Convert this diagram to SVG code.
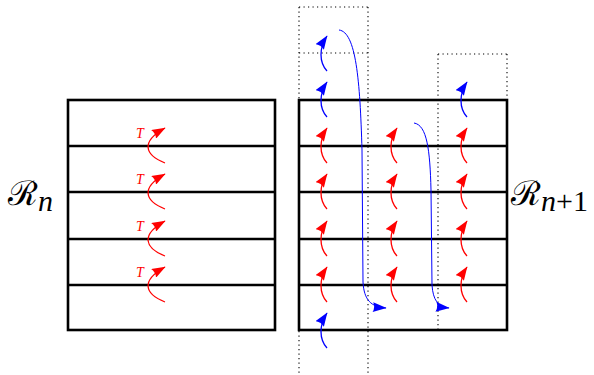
<svg xmlns="http://www.w3.org/2000/svg" width="594" height="375" viewBox="0 0 594 375">
<style>
.box{fill:none;stroke:#000;stroke-width:2.6}
.row{stroke:#000;stroke-width:2.6}
.dot{fill:none;stroke:#000;stroke-width:1.1;stroke-dasharray:1.2 3.3}
.r{fill:none;stroke:#f00;stroke-width:1.3}
.b{fill:none;stroke:#00f;stroke-width:1.3}
.bl{fill:none;stroke:#00f;stroke-width:1}
.lab{font-family:"DejaVu Serif","Liberation Serif",serif;fill:#000}
.sub{font-family:"Liberation Serif",serif;font-size:30px}
.t{font-family:"Liberation Serif",serif;font-style:italic;font-size:14px;fill:#f00}
</style>
<defs>
<marker id="ar" markerUnits="userSpaceOnUse" markerWidth="14" markerHeight="10" viewBox="0 0 11 8" refX="10.5" refY="4" orient="auto"><path d="M0,0 L11,4 L0,8 Q2,4 0,0 z" fill="#f00"/></marker>
<marker id="ab" markerUnits="userSpaceOnUse" markerWidth="14" markerHeight="10" viewBox="0 0 11 8" refX="10.5" refY="4" orient="auto"><path d="M0,0 L11,4 L0,8 Q2,4 0,0 z" fill="#00f"/></marker>
</defs>
<g id="left-block">
<rect class="box" x="68" y="100" width="207" height="230"/>
<line class="row" x1="68" y1="146" x2="275" y2="146"/>
<line class="row" x1="68" y1="192" x2="275" y2="192"/>
<line class="row" x1="68" y1="239" x2="275" y2="239"/>
<line class="row" x1="68" y1="285" x2="275" y2="285"/>
</g>
<g id="right-block">
<rect class="box" x="299" y="100" width="208" height="230"/>
<line class="row" x1="299" y1="146" x2="507" y2="146"/>
<line class="row" x1="299" y1="192" x2="507" y2="192"/>
<line class="row" x1="299" y1="239" x2="507" y2="239"/>
<line class="row" x1="299" y1="285" x2="507" y2="285"/>
</g>
<g id="dotted-column-1">
<path class="dot" d="M299,7 H368 M299,53 H368 M299,7 V375 M368,7 V375"/>
</g>
<g id="dotted-column-3">
<path class="dot" d="M438,54 H507 M438,54 V330 M507,54 V100"/>
</g>
<g id="label-Rn">
<text class="lab" x="8" y="205" font-size="34">ℛ<tspan class="sub" font-style="italic" dy="6">n</tspan></text>
</g>
<g id="label-Rn1">
<text class="lab" x="511" y="205" font-size="34">ℛ<tspan class="sub" dy="6"><tspan font-style="italic">n</tspan>+1</tspan></text>
</g>
<g id="connectors">
<g id="left-T-arrows">
<path class="r" marker-end="url(#ar)" d="M165,163 C145,155 140,142 165,128"/>
<path class="r" marker-end="url(#ar)" d="M165,209 C145,201 140,188 165,174"/>
<path class="r" marker-end="url(#ar)" d="M165,256 C145,248 140,235 165,221"/>
<path class="r" marker-end="url(#ar)" d="M165,302 C145,294 140,281 165,267"/>
<text class="t" x="136" y="138">T</text>
<text class="t" x="136" y="184">T</text>
<text class="t" x="136" y="231">T</text>
<text class="t" x="136" y="277">T</text>
</g>
<g id="right-red-arrows">
<path class="r" marker-end="url(#ar)" d="M327,163 C319,154 319,140 327,128"/>
<path class="r" marker-end="url(#ar)" d="M327,209 C319,200 319,186 327,174"/>
<path class="r" marker-end="url(#ar)" d="M327,256 C319,247 319,233 327,221"/>
<path class="r" marker-end="url(#ar)" d="M327,302 C319,293 319,279 327,267"/>
<path class="r" marker-end="url(#ar)" d="M397,163 C389,154 389,140 397,128"/>
<path class="r" marker-end="url(#ar)" d="M397,209 C389,200 389,186 397,174"/>
<path class="r" marker-end="url(#ar)" d="M397,256 C389,247 389,233 397,221"/>
<path class="r" marker-end="url(#ar)" d="M397,302 C389,293 389,279 397,267"/>
<path class="r" marker-end="url(#ar)" d="M467,163 C459,154 459,140 467,128"/>
<path class="r" marker-end="url(#ar)" d="M467,209 C459,200 459,186 467,174"/>
<path class="r" marker-end="url(#ar)" d="M467,256 C459,247 459,233 467,221"/>
<path class="r" marker-end="url(#ar)" d="M467,302 C459,293 459,279 467,267"/>
</g>
<g id="blue-arrows">
<path class="b" marker-end="url(#ab)" d="M327,71 C319,62 319,48 327,36"/>
<path class="b" marker-end="url(#ab)" d="M327,117 C319,108 319,94 327,82"/>
<path class="b" marker-end="url(#ab)" d="M327,348 C319,339 319,325 327,313"/>
<path class="b" marker-end="url(#ab)" d="M467,117 C459,108 459,94 467,82"/>
<path class="bl" marker-end="url(#ab)" d="M339,30 C356,32 360,80 362,150 L363,282 C364,300 371,307 386,308"/>
<path class="bl" marker-end="url(#ab)" d="M414,123 C427,125 430,150 431,190 L432,285 C433,300 438,307 449,308"/>
</g>
</g>
</svg>
